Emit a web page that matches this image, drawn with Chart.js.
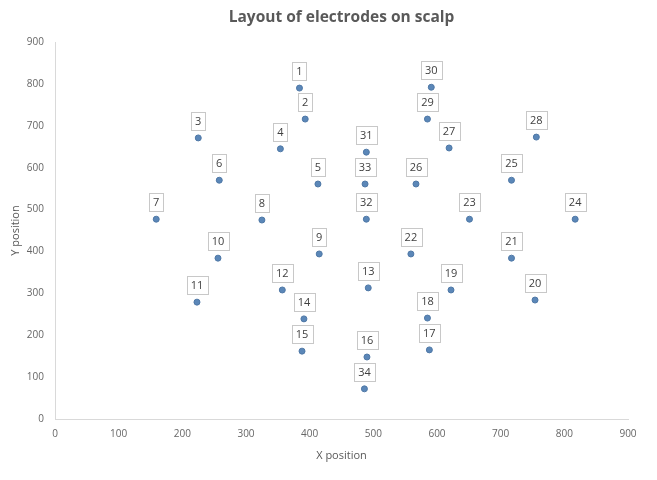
<!DOCTYPE html>
<html>
<head>
<meta charset="utf-8">
<script src="https://cdn.jsdelivr.net/npm/chart.js@4/dist/chart.umd.min.js"></script>
<style>
  html, body { margin: 0; padding: 0; background: #fff; }
  #wrap { width: 657px; height: 480px; position: relative; }
</style>
</head>
<body>
<div id="wrap"><canvas id="c" width="657" height="480"></canvas></div>
<script>
const electrodeLabels = ['1','2','3','4','5','6','7','8','9','10','11','12','13','14','15','16','17','18','19','20','21','22','23','24','25','26','27','28','29','30','31','32','33','34'];
const xPositions = [384,393,225,354,413,258,159,325,415,256,223,357,492,391,388,490,588,585,622,754,717,559,651,817,717,567,619,756,585,591,489,489,487,486];
const yPositions = [790,716,671,645,561,570,477,475,394,384,279,308,313,239,162,148,165,241,308,284,384,394,477,477,570,561,647,673,716,792,637,477,561,72];
const axisTicks = [0,100,200,300,400,500,600,700,800,900];

const points = xPositions.map((x, i) => ({ x: x, y: yPositions[i] }));
const FONT = '"Open Sans", "Noto Sans", sans-serif';

const boxLabels = {
  id: 'boxLabels',
  afterDatasetsDraw(chart) {
    const ctx = chart.ctx;
    const meta = chart.getDatasetMeta(0);
    ctx.save();
    ctx.font = '11px ' + FONT;
    ctx.textAlign = 'center';
    ctx.textBaseline = 'middle';
    meta.data.forEach((el, i) => {
      const txt = electrodeLabels[i];
      const w = ctx.measureText(txt).width + 8;
      const h = 18;
      const cx = el.x;
      const bottom = el.y - 8;
      const left = Math.round(cx - w / 2) + 0.5;
      const top = Math.round(bottom - h) + 0.5;
      ctx.fillStyle = '#ffffff';
      ctx.fillRect(left, top, Math.round(w), h);
      ctx.strokeStyle = '#c8c8c8';
      ctx.lineWidth = 1;
      ctx.strokeRect(left, top, Math.round(w), h);
      ctx.fillStyle = '#404040';
      ctx.fillText(txt, cx, top + h / 2 + 0.5);
    });
    ctx.restore();
  }
};

new Chart(document.getElementById('c'), {
  type: 'scatter',
  data: {
    datasets: [{
      label: 'Electrodes',
      data: points,
      backgroundColor: '#5b87b8',
      borderColor: '#4f78a6',
      borderWidth: 1,
      pointRadius: 3,
      pointHoverRadius: 3
    }]
  },
  options: {
    responsive: false,
    animation: false,
    devicePixelRatio: 1,
    layout: { padding: { top: 0, right: 29, bottom: 0, left: 0 } },
    plugins: {
      legend: { display: false },
      tooltip: { enabled: false },
      title: {
        display: true,
        text: 'Layout of electrodes on scalp',
        fullSize: false,
        color: '#595959',
        font: { family: FONT, size: 15.5, weight: 'bold' },
        padding: { top: 8, bottom: 15.4 }
      }
    },
    scales: {
      x: {
        type: 'linear',
        min: 0, max: 900,
        afterBuildTicks: (s) => { s.ticks = axisTicks.map(v => ({ value: v })); },
        afterFit: (s) => { s.height = 61; },
        grid: { display: false, drawTicks: false },
        border: { display: true, color: '#d9d9d9' },
        ticks: { color: '#666666', padding: 9, font: { family: FONT, size: 10 }, maxRotation: 0 },
        title: { display: true, text: 'X position', color: '#595959', font: { family: FONT, size: 11 }, padding: { top: 0, bottom: 18 } }
      },
      y: {
        type: 'linear',
        min: 0, max: 900,
        afterBuildTicks: (s) => { s.ticks = axisTicks.map(v => ({ value: v })); },
        afterFit: (s) => { s.width = 55; },
        grid: { display: false, drawTicks: false },
        border: { display: true, color: '#d9d9d9' },
        ticks: { color: '#666666', padding: 11, font: { family: FONT, size: 10 } },
        title: { display: true, text: 'Y position', color: '#595959', font: { family: FONT, size: 11 }, padding: { top: 9, bottom: 0 } }
      }
    }
  },
  plugins: [boxLabels]
});
</script>
</body>
</html>
